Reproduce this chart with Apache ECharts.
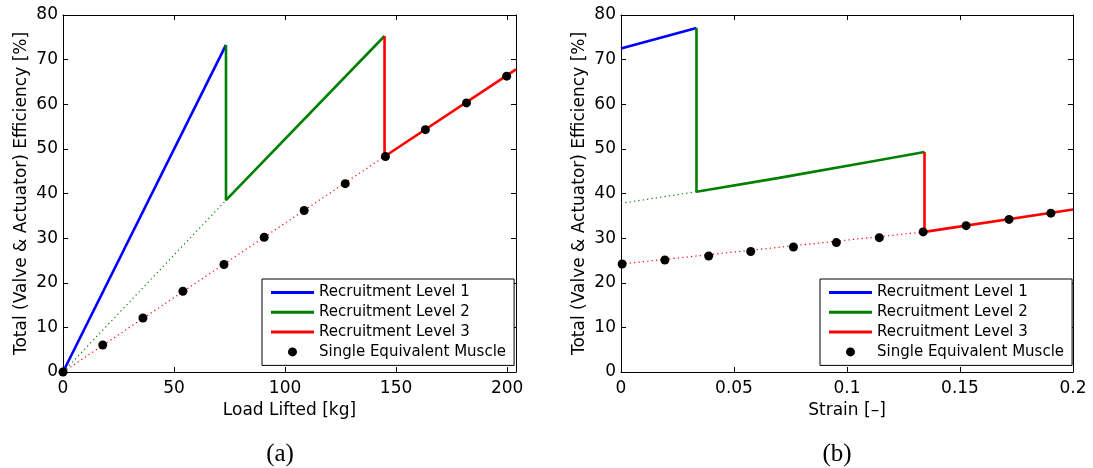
<!DOCTYPE html>
<html><head><meta charset="utf-8">
<script src="https://cdn.jsdelivr.net/npm/echarts@6/dist/echarts.min.js"></script>
<style>html,body{margin:0;padding:0;background:#fff}#c{width:1093px;height:468px}</style>
</head><body><div id="c"></div>
<script>
// ---------- Panel (a): efficiency vs load lifted ----------
const loadLevel1 = [[0, 0], [73.4, 73.3]];
const loadLevel2 = [[73.4, 73.3], [73.4, 38.5], [144.8, 75.3]];
const loadLevel3 = [[144.8, 75.3], [144.8, 48.3], [204, 67.8]];
const loadLevel2Ext = [[0, 0], [73.4, 38.5]];
const loadLevel3Ext = [[0, 0], [144.8, 48.3]];
const loadMuscleX = [0, 17.9, 36, 54, 72.5, 90.6, 108.6, 127.1, 145.2, 163.2, 181.7, 199.8];
const loadMuscleY = [0, 6.05, 12.1, 18.1, 24.1, 30.2, 36.2, 42.2, 48.3, 54.3, 60.3, 66.3];

// ---------- Panel (b): efficiency vs strain ----------
const strainLevel1 = [[0, 72.5], [0.0334, 77.1]];
const strainLevel2 = [[0.0334, 77.1], [0.0334, 40.4], [0.07, 43.5], [0.1121, 47.3], [0.1343, 49.3]];
const strainLevel3 = [[0.1343, 49.3], [0.1343, 31.4], [0.2, 36.4]];
const strainLevel2Ext = [[0, 37.8], [0.0334, 40.4]];
const strainLevel3Ext = [[0, 24.2], [0.1343, 31.4]];
const strainMuscleX = [0.0005, 0.0194, 0.0388, 0.0574, 0.0763, 0.0953, 0.1143, 0.1337, 0.1527, 0.1717, 0.1902];
const strainMuscleY = [24.2, 25.1, 26.0, 27.0, 28.0, 29.0, 30.1, 31.4, 32.8, 34.2, 35.6];

const legendNames = ['Recruitment Level 1', 'Recruitment Level 2', 'Recruitment Level 3', 'Single Equivalent Muscle'];
const yAxisTitle = 'Total (Valve & Actuator) Efficiency [%]';
const xTitleA = 'Load Lifted [kg]';
const xTitleB = 'Strain [\u2013]';
const captions = ['(a)', '(b)'];

const FONT = '"DejaVu Sans", sans-serif';
const BLUE = '#0000ff', GREEN = '#008000', RED = '#ff0000';

function zip(xs, ys) { return xs.map((x, i) => [x, ys[i]]); }

function mainX(grid, max, interval, name, showMax) {
  return {
    type: 'value', gridIndex: grid, position: 'bottom', min: 0, max: max, interval: interval,
    name: name, nameLocation: 'middle', nameGap: 30,
    nameTextStyle: { color: '#000', fontSize: 17, fontFamily: FONT },
    axisLine: { show: true, onZero: false, lineStyle: { color: '#000', width: 1 } },
    axisTick: { show: true, inside: true, length: 5, lineStyle: { color: '#000' } },
    axisLabel: { color: '#000', fontSize: 17, fontFamily: FONT, margin: 8, showMaxLabel: showMax, showMinLabel: true },
    splitLine: { show: false }
  };
}
function topX(grid, max, interval) {
  return {
    type: 'value', gridIndex: grid, position: 'top', min: 0, max: max, interval: interval,
    axisLine: { show: true, onZero: false, lineStyle: { color: '#000', width: 1 } },
    axisTick: { show: true, inside: true, length: 5, lineStyle: { color: '#000' } },
    axisLabel: { show: false }, splitLine: { show: false }
  };
}
function mainY(grid) {
  return {
    type: 'value', gridIndex: grid, position: 'left', min: 0, max: 80, interval: 10,
    name: yAxisTitle, nameLocation: 'middle', nameGap: 33,
    nameTextStyle: { color: '#000', fontSize: 17, fontFamily: FONT },
    axisLine: { show: true, onZero: false, lineStyle: { color: '#000', width: 1 } },
    axisTick: { show: true, inside: true, length: 5, lineStyle: { color: '#000' } },
    axisLabel: { color: '#000', fontSize: 17, fontFamily: FONT, margin: 5 },
    splitLine: { show: false }
  };
}
function rightY(grid) {
  return {
    type: 'value', gridIndex: grid, position: 'right', min: 0, max: 80, interval: 10,
    axisLine: { show: true, onZero: false, lineStyle: { color: '#000', width: 1 } },
    axisTick: { show: true, inside: true, length: 5, lineStyle: { color: '#000' } },
    axisLabel: { show: false }, splitLine: { show: false }
  };
}
function solid(name, data, color, xi, yi) {
  return { type: 'line', name: name, data: data, xAxisIndex: xi, yAxisIndex: yi,
    symbol: 'none', showSymbol: false, lineStyle: { color: color, width: 2.6 }, itemStyle: { color: color },
    z: 3, animation: false, silent: true };
}
function dotted(name, data, color, xi, yi) {
  return { type: 'line', name: name, data: data, xAxisIndex: xi, yAxisIndex: yi,
    symbol: 'none', showSymbol: false, lineStyle: { color: color, width: 1.2, type: [1.2, 3.2] }, itemStyle: { color: color },
    z: 2, animation: false, silent: true };
}
function dots(name, data, xi, yi) {
  return { type: 'scatter', name: name, data: data, xAxisIndex: xi, yAxisIndex: yi,
    symbol: 'circle', symbolSize: 9, itemStyle: { color: '#000', opacity: 1 },
    z: 5, animation: false, silent: true };
}
const LINE_ICON = 'path://M0,0 L43,0 L43,3 L0,3 Z';
function legendAt(left) {
  const cols = [BLUE, GREEN, RED];
  return {
    orient: 'vertical', left: left, top: 279,
    padding: [6, 8, 6, 9], itemWidth: 43, itemHeight: 9, itemGap: 4.8,
    borderColor: '#000', borderWidth: 1, borderRadius: 0, backgroundColor: '#fff',
    selectedMode: false,
    textStyle: { color: '#000', fontSize: 15, fontFamily: FONT, lineHeight: 15 },
    data: legendNames.map((n, i) => i < 3
      ? { name: n, icon: LINE_ICON, itemStyle: { color: cols[i], borderWidth: 0 } }
      : { name: n, icon: 'circle', itemStyle: { color: '#000', borderWidth: 0 } })
  };
}

const chart = echarts.init(document.getElementById('c'), null, { renderer: 'canvas' });
chart.setOption({
  animation: false,
  backgroundColor: '#fff',
  grid: [
    { left: 63, top: 15, width: 453, height: 357, containLabel: false },
    { left: 621, top: 15, width: 452, height: 357, containLabel: false }
  ],
  xAxis: [mainX(0, 204, 50, xTitleA, false), topX(0, 204, 50), mainX(1, 0.2, 0.05, xTitleB, true), topX(1, 0.2, 0.05)],
  yAxis: [mainY(0), rightY(0), mainY(1), rightY(1)],
  legend: [legendAt(262), legendAt(820)],
  series: [
    dotted('l2ext_a', loadLevel2Ext, GREEN, 0, 0),
    dotted('l3ext_a', loadLevel3Ext, RED, 0, 0),
    solid(legendNames[0], loadLevel1, BLUE, 0, 0),
    solid(legendNames[1], loadLevel2, GREEN, 0, 0),
    solid(legendNames[2], loadLevel3, RED, 0, 0),
    dots(legendNames[3], zip(loadMuscleX, loadMuscleY), 0, 0),

    dotted('l2ext_b', strainLevel2Ext, GREEN, 2, 2),
    dotted('l3ext_b', strainLevel3Ext, RED, 2, 2),
    solid(legendNames[0], strainLevel1, BLUE, 2, 2),
    solid(legendNames[1], strainLevel2, GREEN, 2, 2),
    solid(legendNames[2], strainLevel3, RED, 2, 2),
    dots(legendNames[3], zip(strainMuscleX, strainMuscleY), 2, 2)
  ],
  graphic: [
    { type: 'text', x: 280, y: 454, style: { text: captions[0], fill: '#000', font: '25px "Liberation Serif", "DejaVu Serif", serif', textAlign: 'center', textVerticalAlign: 'middle' } },
    { type: 'text', x: 837, y: 454, style: { text: captions[1], fill: '#000', font: '25px "Liberation Serif", "DejaVu Serif", serif', textAlign: 'center', textVerticalAlign: 'middle' } }
  ]
});
</script>
</body></html>
